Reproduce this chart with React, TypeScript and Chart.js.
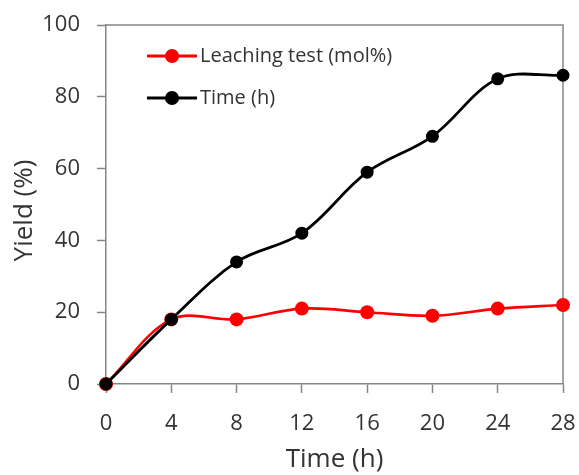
import React, { useEffect, useRef } from "react";
import { Chart, registerables } from "chart.js";

Chart.register(...registerables);

const hours = [0, 4, 8, 12, 16, 20, 24, 28];
const leachingYield = [0, 18, 18, 21, 20, 19, 21, 22];
const timeYield = [0, 18, 34, 42, 59, 69, 85, 86];
const seriesNames = ["Leaching test (mol%)", "Time (h)"];
const seriesColors = ["#ff0000", "#000000"];
const xTitle = "Time (h)";
const yTitle = "Yield (%)";

const FONT = "'Open Sans', sans-serif";
const TEXT = "#333333";
const FRAME = "#868686";

const framePlugin = {
  id: "frameAndLegend",
  beforeDatasetsDraw(chart: any) {
    const { ctx, chartArea } = chart;
    ctx.save();
    ctx.strokeStyle = FRAME;
    ctx.lineWidth = 1.5;
    ctx.beginPath();
    ctx.moveTo(chartArea.left, chartArea.top);
    ctx.lineTo(chartArea.right, chartArea.top);
    ctx.lineTo(chartArea.right, chartArea.bottom);
    ctx.stroke();
    // y axis title
    ctx.translate(25, (chartArea.top + chartArea.bottom) / 2 + 6);
    ctx.rotate(-Math.PI / 2);
    ctx.fillStyle = TEXT;
    ctx.font = `26px ${FONT}`;
    ctx.textAlign = "center";
    ctx.textBaseline = "middle";
    ctx.fillText(yTitle, 0, 0);
    ctx.restore();
  },
  afterDraw(chart: any) {
    const { ctx, chartArea } = chart;
    const x0 = chartArea.left + 41;
    const rows = [chartArea.top + 31, chartArea.top + 73];
    ctx.save();
    rows.forEach((y, i) => {
      ctx.strokeStyle = seriesColors[i];
      ctx.lineWidth = 3;
      ctx.beginPath();
      ctx.moveTo(x0, y);
      ctx.lineTo(x0 + 50, y);
      ctx.stroke();
      ctx.fillStyle = seriesColors[i];
      ctx.beginPath();
      ctx.arc(x0 + 25, y, 7, 0, Math.PI * 2);
      ctx.fill();
      ctx.fillStyle = TEXT;
      ctx.font = `20px ${FONT}`;
      ctx.textBaseline = "middle";
      ctx.textAlign = "left";
      ctx.fillText(seriesNames[i], x0 + 53, y);
    });
    ctx.restore();
  },
};

export default function App() {
  const ref = useRef<HTMLCanvasElement | null>(null);
  useEffect(() => {
    if (!ref.current) return;
    const chart = new Chart(ref.current, {
      type: "line",
      data: {
        datasets: [
          {
            label: seriesNames[0],
            data: hours.map((h, i) => ({ x: h, y: leachingYield[i] })),
            borderColor: seriesColors[0],
            backgroundColor: seriesColors[0],
            borderWidth: 2.6,
            pointRadius: 7,
            pointBorderWidth: 0,
            tension: 0.35,
            clip: false as any,
            order: 1,
          },
          {
            label: seriesNames[1],
            data: hours.map((h, i) => ({ x: h, y: timeYield[i] })),
            borderColor: seriesColors[1],
            backgroundColor: seriesColors[1],
            borderWidth: 2.8,
            pointRadius: 6.5,
            pointBorderWidth: 0,
            tension: 0.35,
            clip: false as any,
            order: 0,
          },
        ],
      },
      options: {
        animation: false,
        responsive: false,
        layout: { padding: { top: 25, right: 16, left: 0, bottom: 0 } },
        plugins: { legend: { display: false }, tooltip: { enabled: false } },
        scales: {
          x: {
            type: "linear",
            min: 0,
            max: 28,
            afterFit: (s: any) => {
              s.height = 91;
              s.paddingLeft = 0;
              s.paddingRight = 0;
            },
            ticks: {
              stepSize: 4,
              color: TEXT,
              padding: 18,
              font: { family: FONT, size: 22 },
            },
            grid: {
              drawOnChartArea: false,
              drawTicks: true,
              tickLength: 9,
              tickColor: FRAME,
              tickWidth: 1.5,
            },
            border: { display: true, color: FRAME, width: 1.5 },
            title: {
              display: true,
              text: xTitle,
              color: TEXT,
              font: { family: FONT, size: 26 },
              padding: { top: 0, bottom: 0 },
            },
          },
          y: {
            min: 0,
            max: 100,
            afterFit: (s: any) => {
              s.width = 106;
              s.paddingTop = 0;
              s.paddingBottom = 0;
            },
            ticks: {
              stepSize: 20,
              color: TEXT,
              padding: 17,
              font: { family: FONT, size: 22 },
            },
            grid: {
              drawOnChartArea: false,
              drawTicks: true,
              tickLength: 9,
              tickColor: FRAME,
              tickWidth: 1.5,
            },
            border: { display: true, color: FRAME, width: 1.5 },
            title: { display: false },
          },
        },
      },
      plugins: [framePlugin],
    });
    return () => chart.destroy();
  }, []);
  return (
    <div style={{ position: "fixed", left: 0, top: 0, width: 579, height: 475, background: "#fff" }}>
      <canvas ref={ref} width={579} height={475} />
    </div>
  );
}
